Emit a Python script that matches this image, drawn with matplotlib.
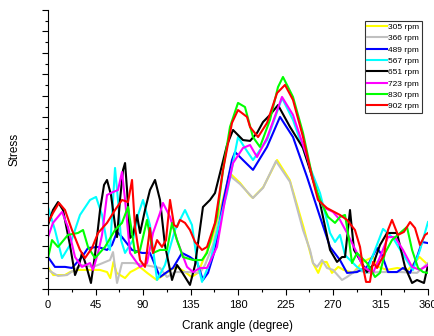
import matplotlib

matplotlib.use("Agg")
import matplotlib.pyplot as plt
from matplotlib.ticker import MultipleLocator, NullFormatter

plt.rcParams["font.family"] = ["Liberation Sans", "DejaVu Sans"]

# Crank angle (degree) / stress (arbitrary units, unlabelled axis)
angle_305 = [0, 5, 16, 21, 28, 40, 49, 56, 59, 62, 65, 73, 78, 82, 87, 94, 103, 111, 116, 122,
             130, 136, 142, 147, 155, 163, 170, 172, 182, 191, 194, 204, 217, 229, 242, 246,
             251, 256, 260, 264, 269, 275, 280, 289, 298, 308, 313, 321, 331, 341, 352, 360]
stress_305 = [10.3, 6.5, 6.5, 7.9, 8.9, 8.9, 8.9, 7.9, 5.1, 12.6, 7.5, 5.1, 7.9, 8.9, 10.3, 7.5,
              4.2, 7.0, 8.9, 10.3, 7.9, 5.6, 7.5, 13.5, 22.8, 36.8, 49.9, 54.1, 49.4, 43.8, 42.4,
              47.5, 60.1, 50.8, 28.9, 21.4, 12.1, 7.5, 12.6, 12.6, 7.5, 10.3, 8.9, 7.5, 12.6,
              14.9, 10.3, 8.9, 9.8, 8.9, 14.9, 11.2]

angle_366 = [0, 9.5, 18, 27.5, 32.2, 42.6, 47.4, 58.7, 61.6, 65.4, 70.1, 80.5, 91.9, 106.1,
             112.7, 120.3, 131.7, 144, 148.7, 156.3, 163, 171.5, 181.9, 194.2, 203.7, 216,
             229.3, 241.6, 248.2, 251.1, 254.9, 259.6, 264.3, 270, 278.5, 283.3, 292.7, 302.2,
             314.5, 333.5, 349.6, 360]
stress_366 = [8.9, 6.1, 6.5, 9.8, 11.2, 10.3, 11.2, 13.5, 17.2, 2.8, 12.1, 12.1, 11.2, 9.8, 5.6,
              7.9, 7.9, 7.5, 11.2, 20.5, 34.5, 53.1, 48.9, 42.4, 47.1, 59.6, 49.9, 27.5, 18.2,
              12.1, 10.3, 13.5, 9.8, 8.9, 4.2, 5.6, 8.9, 7.5, 7.9, 7.9, 7.5, 12.1]

angle_489 = [0, 6.6, 16.1, 22.7, 32.2, 37.9, 47.4, 55.9, 60.6, 65.4, 70.1, 79.6, 89.1, 96.6,
             106.1, 112.7, 118.4, 126.9, 134.5, 141.1, 146.8, 151.6, 158.2, 165.8, 174.3,
             177.2, 184.7, 194.2, 207.5, 219.8, 232.1, 245.4, 257.7, 267.2, 276.6, 283.3,
             292.7, 302.2, 311.7, 316.4, 322.1, 330.6, 336.3, 343, 349.6, 354.3, 360]
stress_489 = [14.9, 10.3, 10.3, 9.8, 14.9, 19.1, 19.6, 18.2, 20.5, 26.6, 24.2, 18.2, 16.8, 16.8,
              5.6, 7.9, 9.8, 16.8, 14.9, 12.6, 4.2, 7.5, 18.2, 40.1, 60.1, 63.8, 60.1, 55.5,
              66.2, 80.2, 70.8, 52.2, 33.6, 19.6, 13.5, 7.5, 7.9, 10.3, 19.1, 15.8, 7.9, 7.9,
              9.8, 7.5, 14.9, 21.9, 21.4]

angle_567 = [0, 6.6, 13.3, 20.8, 30.3, 39.8, 45.5, 51.2, 55.9, 58.7, 61.6, 63.5, 66.3, 69.2,
             73, 80.5, 85.3, 90, 96.6, 103.3, 110.8, 120.3, 129.8, 136.4, 141.1, 145.9, 153.5,
             160.1, 169.6, 180, 186.6, 194.2, 207.5, 221.7, 232.1, 245.4, 257.7, 267.2, 271.9,
             276.6, 281.4, 292.7, 301.3, 309.8, 317.4, 326.9, 335.4, 345.8, 352.4, 360]
stress_567 = [38.2, 27.5, 14.4, 20.5, 34.5, 41.5, 42.9, 34.5, 21.4, 18.2, 41.5, 56.4, 41.5, 22.8,
              16.8, 22.8, 34.5, 41.5, 29.8, 4.2, 11.2, 27.5, 36.8, 29.8, 13.5, 3.3, 12.6, 26.1,
              44.7, 70.8, 65.7, 60.1, 69.4, 89.0, 78.8, 60.1, 44.7, 26.1, 21.9, 25.2, 15.8,
              10.3, 7.5, 18.2, 28.0, 23.8, 16.8, 8.9, 18.2, 31.2]

angle_651 = [0, 4.7, 9.5, 14.2, 20.8, 25.6, 29.4, 32.2, 36, 40.7, 44.5, 49.3, 53.1, 55.9, 59.7,
             63.5, 65.4, 68.2, 71.1, 73, 74.9, 77.7, 80.5, 84.3, 87.2, 91.9, 96.6, 101.4,
             106.1, 110.8, 117.5, 122.2, 126.9, 134.5, 139.3, 146.8, 153.5, 158.2, 163, 169.6,
             175.3, 184.7, 191.4, 198, 203.7, 210.3, 217.9, 229.3, 241.6, 248.2, 257.7, 267.2,
             273.8, 278.5, 281.4, 286.1, 289.9, 295.6, 302.2, 307.9, 314.5, 321.2, 330.6,
             338.2, 344.9, 349.6, 356.2, 360]
stress_651 = [29.8, 36.8, 40.5, 36.8, 20.5, 6.5, 11.2, 16.8, 11.2, 2.8, 15.8, 36.8, 48.5, 50.8,
              43.8, 29.8, 24.2, 41.5, 55.5, 58.7, 46.1, 23.8, 25.2, 34.5, 26.1, 36.8, 46.1,
              50.8, 41.5, 20.5, 4.2, 11.2, 7.9, 1.9, 11.2, 38.2, 41.5, 44.7, 54.1, 67.1, 74.1,
              69.4, 69.0, 72.7, 77.8, 81.1, 85.7, 75.5, 65.7, 55.5, 40.1, 18.2, 12.6, 14.9,
              14.9, 36.8, 18.2, 13.5, 7.9, 11.2, 20.5, 26.1, 26.1, 10.3, 2.8, 4.2, 2.8, 11.2]

angle_723 = [0, 4.7, 13.3, 18.9, 25.6, 32.2, 39.8, 42.6, 47.4, 51.2, 55.9, 61.6, 66.3, 70.1,
             73, 77.7, 82.4, 87.2, 93.8, 99.5, 106.1, 108.9, 115.6, 122.2, 131.7, 137.4, 144,
             150.6, 160.1, 167.7, 175.3, 184.7, 191.4, 198, 207.5, 221.7, 232.1, 245.4, 254.9,
             260.6, 270, 276.6, 283.3, 292.7, 298.4, 307.9, 314.5, 322.1, 328.7, 336.3, 344.9,
             352.4, 360]
stress_723 = [24.2, 30.8, 35.9, 28.9, 14.9, 10.3, 12.1, 8.9, 16.8, 25.2, 43.8, 45.2, 46.1, 54.5,
              41.5, 16.8, 13.5, 10.3, 12.1, 26.1, 35.4, 40.1, 33.6, 22.8, 10.3, 7.9, 9.8, 9.8,
              19.6, 41.5, 58.7, 65.7, 67.1, 61.5, 70.4, 89.5, 81.1, 61.5, 44.7, 38.2, 35.9,
              32.2, 26.1, 16.8, 10.3, 7.5, 14.9, 24.2, 24.2, 18.2, 10.3, 8.9, 11.2]

angle_830 = [0, 3.8, 9.5, 18.9, 28.4, 33.2, 37.9, 44.5, 54, 63.5, 70.1, 75.8, 79.6, 82.4, 87.2,
             93.8, 99.5, 106.1, 112.7, 117.5, 122.2, 127.9, 137.4, 145.9, 150.6, 160.1, 165.8,
             172.4, 180, 186.6, 194.2, 200.8, 210.3, 217.9, 222.6, 232.1, 241.6, 251.1, 257.7,
             265.3, 271.9, 276.6, 281.4, 285.2, 288, 292.7, 302.2, 309.8, 314.5, 319.3, 325.9,
             333.5, 340.1, 344.9, 350.6, 355.3, 360]
stress_830 = [14.4, 22.8, 19.6, 25.2, 26.1, 27.5, 19.6, 14.4, 19.6, 27.5, 30.8, 38.2, 26.1, 16.8,
              18.2, 32.2, 16.8, 18.2, 18.2, 30.8, 22.8, 14.9, 13.5, 13.5, 16.8, 33.6, 55.5,
              75.5, 86.7, 84.8, 70.8, 66.2, 78.8, 94.1, 98.8, 89.5, 72.7, 50.8, 41.5, 33.6,
              30.8, 33.6, 34.5, 22.8, 12.1, 16.8, 12.1, 5.6, 7.5, 16.8, 22.8, 26.1, 28.9, 18.2,
              9.8, 7.9, 7.5]

angle_902 = [0, 4.7, 10.4, 16.1, 22.7, 30.3, 35, 41.7, 47.4, 55.9, 63.5, 70.1, 75.8, 79.6, 82.4,
             87.2, 91.9, 96.6, 99.5, 103.3, 108, 111.8, 115.6, 119.4, 122.2, 125, 129.8, 134.5,
             139.3, 145.9, 150.6, 158.2, 165.8, 174.3, 180, 188.5, 191.4, 199, 207.5, 217,
             224.5, 232.1, 241.6, 250.1, 255.8, 264.3, 276.6, 283.3, 290.8, 295.6, 298.4,
             301.3, 305, 307.9, 311.7, 314.5, 318.3, 322.1, 325.9, 331.5, 337.2, 343, 347.7,
             352.4, 357.2, 360]
stress_902 = [30.8, 35.4, 40.1, 36.8, 27.5, 18.2, 14.4, 19.1, 26.1, 30.8, 36.8, 41.5, 40.5, 50.8,
              28.9, 13.5, 10.3, 28.4, 16.8, 22.8, 19.6, 22.8, 41.5, 29.8, 28.9, 32.2, 30.8,
              27.5, 21.9, 18.2, 19.6, 30.8, 55.5, 77.4, 83.4, 80.2, 75.5, 70.8, 77.4, 91.3,
              95.1, 88.1, 70.8, 52.2, 41.5, 37.7, 34.5, 32.2, 27.5, 19.6, 10.3, 3.3, 3.3, 12.6,
              9.8, 12.6, 15.8, 27.5, 32.2, 25.2, 26.6, 31.2, 28.4, 20.5, 25.2, 26.1]

series = [
    ("305 rpm", angle_305, stress_305, "#ffff00"),
    ("366 rpm", angle_366, stress_366, "#c0c0c0"),
    ("489 rpm", angle_489, stress_489, "#0000ff"),
    ("567 rpm", angle_567, stress_567, "#00ffff"),
    ("651 rpm", angle_651, stress_651, "#000000"),
    ("723 rpm", angle_723, stress_723, "#ff00ff"),
    ("830 rpm", angle_830, stress_830, "#00ff00"),
    ("902 rpm", angle_902, stress_902, "#ff0000"),
]

fig = plt.figure(figsize=(4.34, 3.36), dpi=100)
ax = fig.add_axes([48 / 434, 47 / 336, 380 / 434, 279 / 336])

for label, x, y, color in series:
    ax.plot(x, y, color=color, lw=1.5, label=label, solid_joinstyle="round")

ax.set_xlim(0, 360)
ax.set_ylim(0, 130)
ax.xaxis.set_major_locator(MultipleLocator(45))
ax.xaxis.set_minor_locator(MultipleLocator(22.5))
ax.yaxis.set_major_locator(MultipleLocator(10))
ax.yaxis.set_minor_locator(MultipleLocator(5))
ax.yaxis.set_major_formatter(NullFormatter())
ax.tick_params(which="major", direction="out", length=4, width=0.8, labelsize=8, pad=4)
ax.tick_params(which="minor", direction="out", length=2.2, width=0.8)
ax.spines["top"].set_visible(False)
ax.spines["right"].set_visible(False)

ax.set_xlabel("Crank angle (degree)", fontsize=8.5, labelpad=7)
ax.set_ylabel("Stress", fontsize=8.5, labelpad=12)

leg = ax.legend(
    loc="upper right",
    bbox_to_anchor=(0.984, 0.962),
    fontsize=6,
    frameon=True,
    fancybox=False,
    edgecolor="black",
    labelspacing=0.42,
    handlelength=2.3,
    handletextpad=0.2,
    borderpad=0.3,
    borderaxespad=0,
)
leg.get_frame().set_linewidth(0.8)

fig.savefig("out.png", dpi=100)
